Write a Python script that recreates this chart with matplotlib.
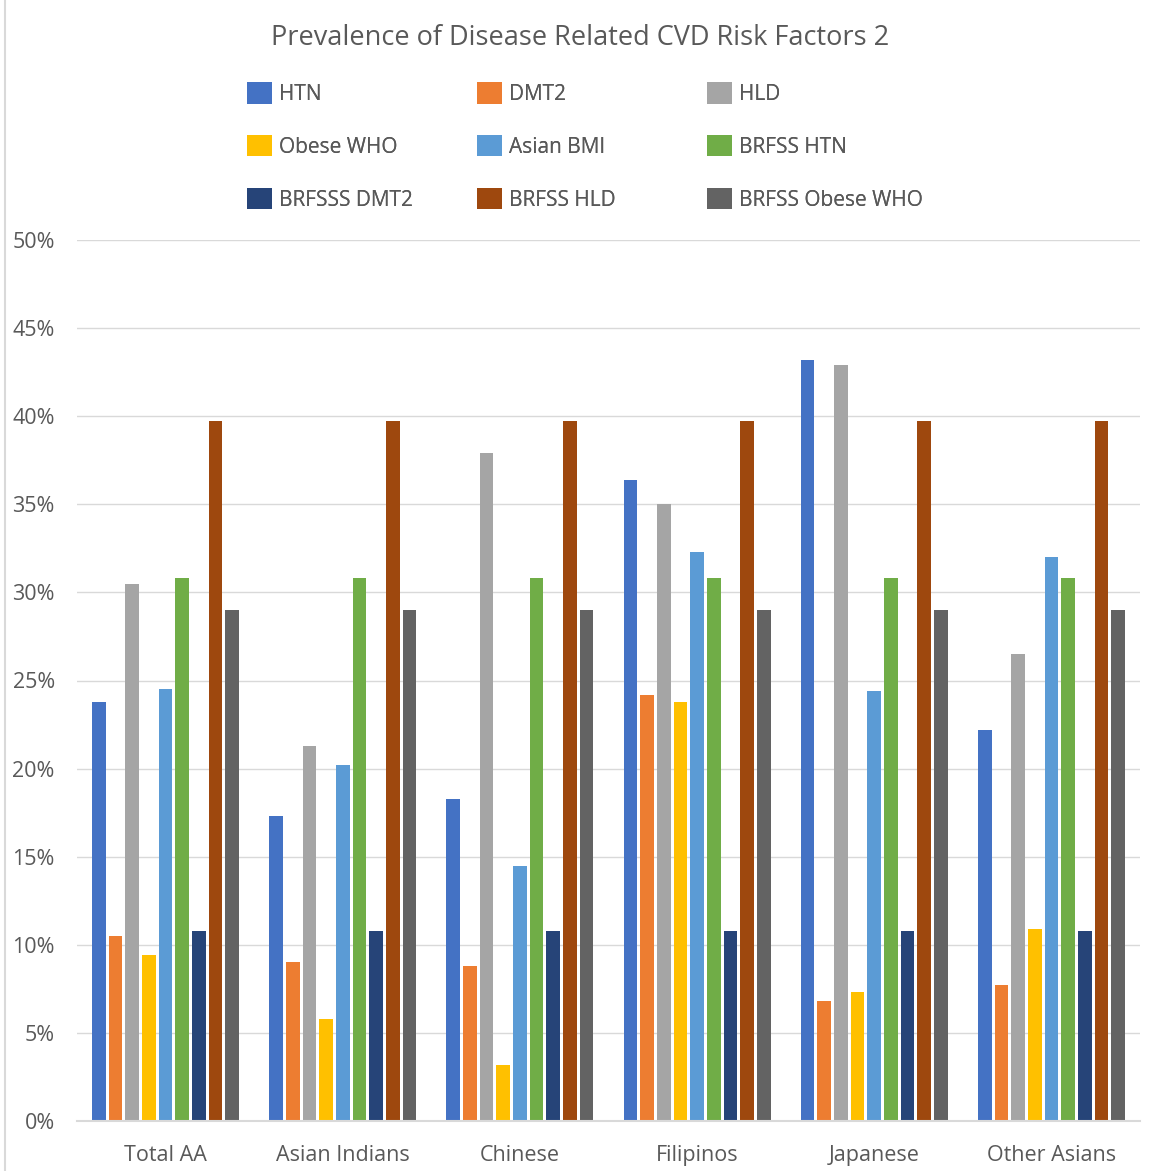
#!/usr/bin/env python3
# coding: utf-8

import matplotlib
matplotlib.use('Agg')
import matplotlib.pyplot as plt
import matplotlib.lines as lines
import numpy as np

plt.rcParams['font.family'] = ['Open Sans', 'DejaVu Sans']

groups = ['Total AA', 'Asian Indians', 'Chinese', 'Filipinos', 'Japanese', 'Other Asians']

series = ['HTN', 'DMT2', 'HLD', 'Obese WHO', 'Asian BMI', 'BRFSS HTN',
          'BRFSSS DMT2', 'BRFSS HLD', 'BRFSS Obese WHO']

htn = [23.8, 17.3, 18.3, 36.4, 43.2, 22.2]
dmt2 = [10.5, 9.0, 8.8, 24.2, 6.8, 7.7]
hld = [30.5, 21.3, 37.9, 35.0, 42.9, 26.5]
obese_who = [9.4, 5.8, 3.2, 23.8, 7.3, 10.9]
asian_bmi = [24.5, 20.2, 14.5, 32.3, 24.4, 32.0]
brfss_htn = [30.8] * 6
brfss_dmt2 = [10.8] * 6
brfss_hld = [39.7] * 6
brfss_obese = [29.0] * 6

colors = ['#4472C4', '#ED7D31', '#A5A5A5', '#FFC000', '#5B9BD5', '#70AD47',
          '#264478', '#9E480E', '#636363']

values = [htn, dmt2, hld, obese_who, asian_bmi, brfss_htn,
          brfss_dmt2, brfss_hld, brfss_obese]

TXT = '#595959'
GRID = '#D9D9D9'
W, H = 1151, 1171

fig = plt.figure(figsize=(W / 100, H / 100), dpi=100)
ax = fig.add_axes([77 / W, 50 / H, 1063 / W, 881 / H])

x = np.arange(len(groups))
step = 0.094
width = 0.077
handles = []
for i, (name, vals, c) in enumerate(zip(series, values, colors)):
    b = ax.bar(x + (i - 4) * step, vals, width, color=c, label=name, zorder=3)
    handles.append(b)

ax.set_xlim(-0.5, len(groups) - 0.5)
ax.set_ylim(0, 50)
ax.set_yticks(np.arange(0, 51, 5))
ax.set_yticklabels([f'{v}%' for v in range(0, 51, 5)])
ax.set_xticks(x)
ax.set_xticklabels(groups)
ax.tick_params(axis='both', length=0, colors=TXT, labelsize=15.5)
ax.tick_params(axis='y', pad=16)
ax.tick_params(axis='x', pad=17)

ax.grid(axis='y', color=GRID, linewidth=1, zorder=0)
for s in ['left', 'right', 'top']:
    ax.spines[s].set_visible(False)
ax.spines['bottom'].set_color(GRID)
ax.spines['bottom'].set_linewidth(1.5)
ax.spines['bottom'].set_zorder(4)

# one legend per column so the columns sit at fixed positions
for col, x0 in enumerate([243, 473, 703]):
    idx = [col, col + 3, col + 6]
    leg = fig.legend([handles[k] for k in idx], [series[k] for k in idx],
                     loc='upper left', bbox_to_anchor=(x0 / W, 1 - 78 / H),
                     frameon=False, fontsize=15, labelcolor=TXT,
                     handlelength=1.2, handleheight=1.2, handletextpad=0.35,
                     labelspacing=1.45, borderaxespad=0, borderpad=0.2)
    fig.add_artist(leg)

fig.text(580 / W, 1 - 38 / H, 'Prevalence of Disease Related CVD Risk Factors 2',
         ha='center', va='center', fontsize=19.5, color=TXT)

# chart area edge
fig.add_artist(lines.Line2D([5 / W, 5 / W], [0, 1], color=GRID, linewidth=1.5))

fig.savefig('out.png', dpi=100)
